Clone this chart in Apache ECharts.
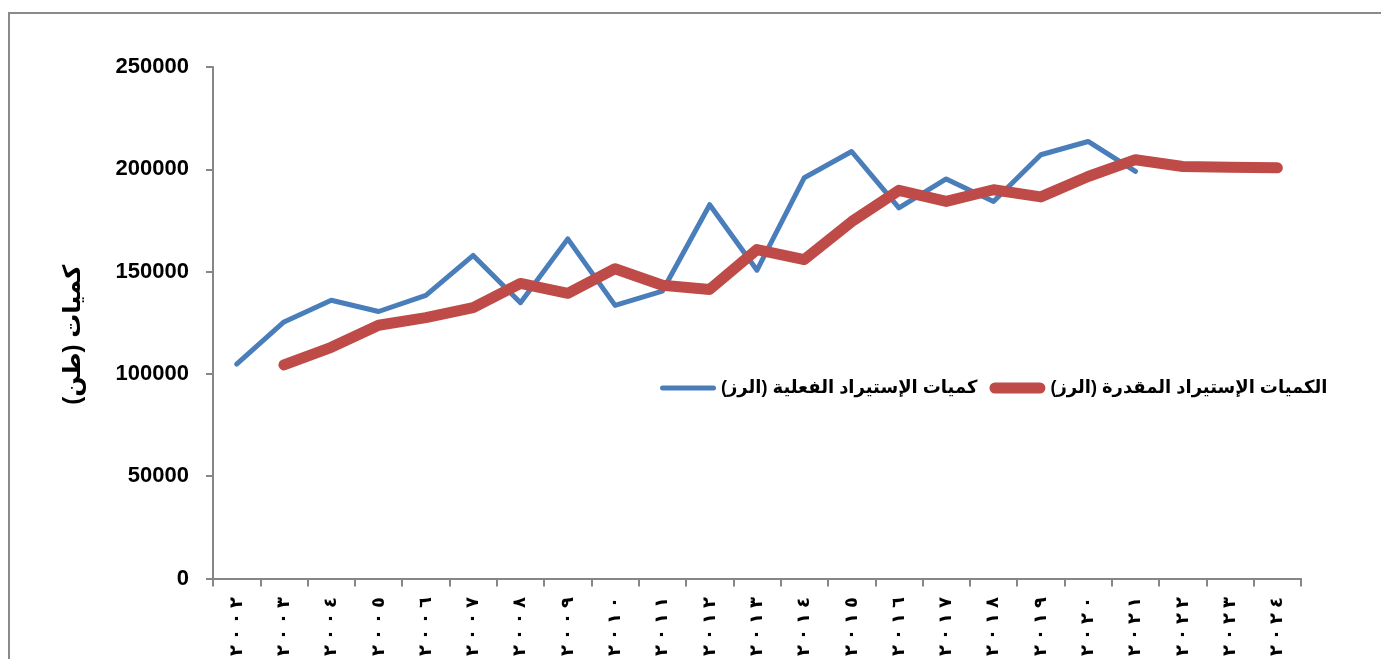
<!DOCTYPE html>
<html>
<head>
<meta charset="utf-8">
<script src="https://cdn.jsdelivr.net/npm/echarts@6/dist/echarts.min.js"></script>
<style>
  html, body { margin: 0; padding: 0; background: #fff; }
  #chart { width: 1381px; height: 659px; }
</style>
</head>
<body>
<div id="chart"></div>
<script>
// years 2002..2024 in Arabic-Indic digits
var years = ['٢٠٠٢','٢٠٠٣','٢٠٠٤','٢٠٠٥','٢٠٠٦','٢٠٠٧','٢٠٠٨','٢٠٠٩','٢٠١٠','٢٠١١','٢٠١٢','٢٠١٣',
             '٢٠١٤','٢٠١٥','٢٠١٦','٢٠١٧','٢٠١٨','٢٠١٩','٢٠٢٠','٢٠٢١','٢٠٢٢','٢٠٢٣','٢٠٢٤'];

var actualName = 'كميات الإستيراد الفعلية (الرز)';
var estimatedName = 'الكميات الإستيراد المقدرة (الرز)';
var yTitle = 'كميات (طن)';

var actual = [104800, 125400, 136000, 130500, 138400, 157900, 134800, 166000, 133500, 140500,
              182700, 150700, 195900, 208700, 181100, 195300, 184300, 207100, 213600, 199000,
              null, null, null];
var estimated = [null, 104400, 113000, 123800, 127500, 132400, 144200, 139400, 151400, 143300,
                 141300, 160800, 155900, 174400, 189700, 184300, 190000, 186500, 196500, 204700,
                 201400, 201000, 200700];

var yTicks = [0, 50000, 100000, 150000, 200000, 250000];

var font = 'Arial, "Liberation Sans", "DejaVu Sans", sans-serif';
var blue = '#4A7EBB', red = '#BE4B48';
var chart = echarts.init(document.getElementById('chart'));
var option = {
    backgroundColor: '#fff',
    animation: false,
    textStyle: { fontFamily: font },
    graphic: [{
        type: 'rect',
        shape: { x: 9, y: 13, width: 1400, height: 700 },
        style: { fill: 'none', stroke: '#8a8a8a', lineWidth: 2 },
        silent: true
    }],
    grid: { left: 213, right: 80, top: 67, bottom: 79, containLabel: false },
    legend: {
        left: 655, top: 374,
        align: 'left',
        itemGap: 12,
        itemWidth: 56, itemHeight: 14,
        textStyle: { fontFamily: font, fontSize: 18, fontWeight: 'bold', color: '#000' },
        data: [
            { name: actualName, icon: 'path://M2.5,0 H53.5 A2.5,2.5 0 0 1 53.5,5 H2.5 A2.5,2.5 0 0 1 2.5,0 Z',
              itemStyle: { color: blue } },
            { name: estimatedName, icon: 'path://M5.5,0 H50.5 A5.5,5.5 0 0 1 50.5,11 H5.5 A5.5,5.5 0 0 1 5.5,0 Z',
              itemStyle: { color: red } }
        ]
    },
    xAxis: {
        type: 'category',
        data: years,
        boundaryGap: true,
        axisLine: { lineStyle: { color: '#868686', width: 2 } },
        axisTick: { show: true, interval: 0, length: 8, lineStyle: { color: '#868686', width: 2 } },
        axisLabel: {
            interval: 0, rotate: 90, margin: 16,
            formatter: function (v) {
                return v.split('').map(function (c) { return '{d|' + c + '}'; }).join('');
            },
            rich: {
                d: { width: 16, align: 'center', fontFamily: font, fontSize: 18, fontWeight: 'bold', color: '#000' }
            }
        }
    },
    yAxis: {
        type: 'value',
        min: yTicks[0], max: yTicks[yTicks.length - 1], interval: 50000,
        name: yTitle,
        nameLocation: 'middle',
        nameGap: 128,
        nameRotate: 90,
        nameTextStyle: { fontFamily: font, fontSize: 24, fontWeight: 'bold', color: '#000', padding: [0, 24, 0, 0] },
        axisLine: { show: true, lineStyle: { color: '#868686', width: 2 } },
        axisTick: { show: true, length: 7, lineStyle: { color: '#868686', width: 2 } },
        splitLine: { show: false },
        axisLabel: {
            margin: 24, fontFamily: font, fontSize: 22, fontWeight: 'bold', color: '#000',
            formatter: function (v) { return String(v); }
        }
    },
    series: [
        {
            name: actualName,
            type: 'line',
            data: actual,
            symbol: 'none',
            lineStyle: { color: blue, width: 5, cap: 'round', join: 'round' },
            itemStyle: { color: blue },
            z: 2
        },
        {
            name: estimatedName,
            type: 'line',
            data: estimated,
            symbol: 'none',
            lineStyle: { color: red, width: 11, cap: 'round', join: 'round' },
            itemStyle: { color: red },
            z: 3
        }
    ]
};
chart.setOption(option);
</script>
</body>
</html>
